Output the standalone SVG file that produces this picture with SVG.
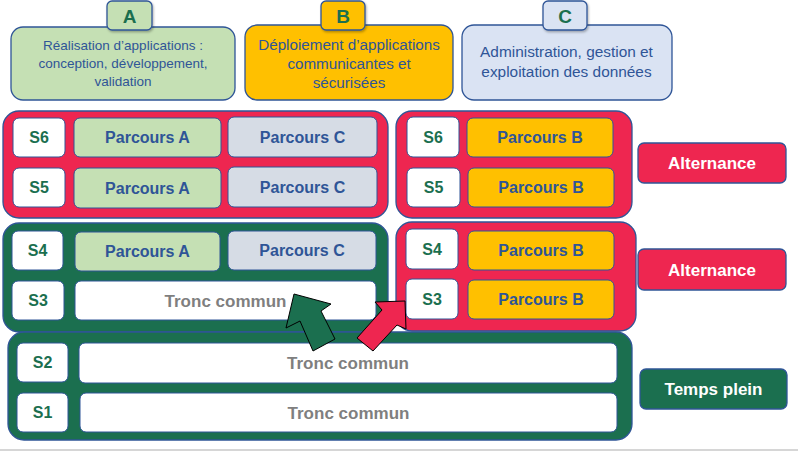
<svg xmlns="http://www.w3.org/2000/svg" width="798" height="451" viewBox="0 0 798 451">
<defs>
<style>
.t{font-family:"Liberation Sans",Arial,sans-serif;text-anchor:middle}
.big{stroke:#2F5597;stroke-width:1.3}
.tab{stroke:#2F5597;stroke-width:1.3}
.tabt{font-weight:bold;font-size:19px;fill:#1B6F4F}
.desc{fill:#2F5597}
.red{fill:#EE2650;stroke:#2F5597;stroke-width:1.3}
.grn{fill:#1B6F4F;stroke:#2F5597;stroke-width:1.3}
.box{stroke:#2F5597;stroke-width:1}
.w{fill:#FFFFFF}
.pa{fill:#C5E0B4}
.pb{fill:#FFC000}
.pc{fill:#D6DCE5}
.s{font-weight:bold;font-size:16px;fill:#1B6F4F}
.p{font-weight:bold;font-size:16px;fill:#2F5597}
.tc{font-weight:bold;font-size:17px;fill:#7F7F7F}
.lab{font-weight:bold;font-size:17px;fill:#FFFFFF}
</style>
<filter id="sh" x="-20%" y="-20%" width="140%" height="150%">
<feDropShadow dx="1" dy="1.5" stdDeviation="1" flood-color="#000" flood-opacity="0.3"/>
</filter>
</defs>
<rect width="798" height="451" fill="#FFFFFF"/>
<line x1="0" y1="450" x2="798" y2="450" stroke="#C8C8C8" stroke-width="1.5"/>

<g id="domain-A">
<rect class="big" x="11" y="27" width="224" height="73" rx="12" fill="#C5E0B4"/>
<rect class="tab" x="107" y="1" width="45" height="29" rx="5" fill="#C5E0B4" filter="url(#sh)"/>
<text class="t tabt" x="129.5" y="22.5">A</text>
<text class="t desc" font-size="13.5" x="123" y="49.5">Réalisation d’applications :</text>
<text class="t desc" font-size="13.5" x="123" y="68">conception, développement,</text>
<text class="t desc" font-size="13.5" x="123" y="86">validation</text>
</g>

<g id="domain-B">
<rect class="big" x="245" y="25" width="208" height="75" rx="12" fill="#FFC000"/>
<rect class="tab" x="321" y="1" width="44" height="29" rx="5" fill="#FFC000" filter="url(#sh)"/>
<text class="t tabt" x="343" y="22.5">B</text>
<text class="t desc" font-size="15.2" x="349" y="50">Déploiement d’applications</text>
<text class="t desc" font-size="15.2" x="349" y="69">communicantes et</text>
<text class="t desc" font-size="15.2" x="349" y="88">sécurisées</text>
</g>

<g id="domain-C">
<rect class="big" x="462" y="25" width="210" height="75" rx="12" fill="#DAE3F3"/>
<rect class="tab" x="543" y="1" width="44" height="29" rx="5" fill="#DAE3F3" filter="url(#sh)"/>
<text class="t tabt" x="565" y="22.5">C</text>
<text class="t desc" font-size="15.4" x="566.5" y="57">Administration, gestion et</text>
<text class="t desc" font-size="15.4" x="566.5" y="77">exploitation des données</text>
</g>

<g id="panel-S5S6-AC">
<rect class="red" x="3" y="111" width="385" height="107" rx="16"/>
<rect class="box w" x="13" y="118" width="52" height="39" rx="6"/>
<text class="t s" x="39" y="143">S6</text>
<rect class="box pa" x="74" y="118" width="147" height="39" rx="6"/>
<text class="t p" x="147.5" y="143">Parcours A</text>
<rect class="box pc" x="228" y="117" width="149" height="40" rx="6"/>
<text class="t p" x="302.5" y="143">Parcours C</text>
<rect class="box w" x="13" y="168" width="52" height="39" rx="6"/>
<text class="t s" x="39" y="193">S5</text>
<rect class="box pa" x="74" y="168" width="147" height="40" rx="6"/>
<text class="t p" x="147.5" y="193.5">Parcours A</text>
<rect class="box pc" x="228" y="167" width="149" height="40" rx="6"/>
<text class="t p" x="302.5" y="193">Parcours C</text>
</g>

<g id="panel-S5S6-B">
<rect class="red" x="396" y="111" width="236" height="107" rx="16"/>
<rect class="box w" x="407" y="117" width="52" height="40" rx="6"/>
<text class="t s" x="433" y="143">S6</text>
<rect class="box pb" x="467" y="118" width="146" height="39" rx="6"/>
<text class="t p" x="540" y="143">Parcours B</text>
<rect class="box w" x="407" y="168" width="53" height="39" rx="6"/>
<text class="t s" x="433.5" y="193">S5</text>
<rect class="box pb" x="468" y="168" width="146" height="39" rx="6"/>
<text class="t p" x="541" y="193">Parcours B</text>
</g>

<g id="panel-S3S4-AC">
<rect class="grn" x="3" y="223" width="385" height="109" rx="16"/>
<rect class="box w" x="12" y="231" width="51" height="39" rx="6"/>
<text class="t s" x="37.5" y="256">S4</text>
<rect class="box pa" x="75" y="232" width="145" height="39" rx="6"/>
<text class="t p" x="147.5" y="257">Parcours A</text>
<rect class="box pc" x="228" y="231" width="148" height="39" rx="6"/>
<text class="t p" x="302" y="256">Parcours C</text>
<rect class="box w" x="12" y="281" width="52" height="39" rx="6"/>
<text class="t s" x="38" y="306">S3</text>
<rect class="box w" x="75" y="281" width="301" height="39" rx="6"/>
<text class="t tc" x="225.5" y="306.5">Tronc commun</text>
</g>

<g id="panel-S3S4-B">
<rect class="red" x="396" y="222" width="240" height="109" rx="16"/>
<rect class="box w" x="406" y="229" width="52" height="40" rx="6"/>
<text class="t s" x="432" y="255">S4</text>
<rect class="box pb" x="468" y="231" width="146" height="39" rx="6"/>
<text class="t p" x="541" y="256">Parcours B</text>
<rect class="box w" x="406" y="279" width="52" height="40" rx="6"/>
<text class="t s" x="432" y="305">S3</text>
<rect class="box pb" x="468" y="280" width="146" height="39" rx="6"/>
<text class="t p" x="541" y="305">Parcours B</text>
</g>

<g id="panel-S1S2">
<rect class="grn" x="8" y="332" width="624" height="108" rx="16"/>
<rect class="box w" x="17" y="343" width="51" height="39" rx="6"/>
<text class="t s" x="42.5" y="368">S2</text>
<rect class="box w" x="79" y="343" width="538" height="40" rx="6"/>
<text class="t tc" x="348" y="369">Tronc commun</text>
<rect class="box w" x="17" y="393" width="51" height="39" rx="6"/>
<text class="t s" x="42.5" y="418">S1</text>
<rect class="box w" x="80" y="393" width="537" height="39" rx="6"/>
<text class="t tc" x="348.5" y="418.5">Tronc commun</text>
</g>

<g id="label-alternance-1">
<rect class="red" x="638" y="143" width="148" height="40" rx="6"/>
<text class="t lab" x="712" y="169">Alternance</text>
</g>
<g id="label-alternance-2">
<rect class="red" x="638" y="249" width="148" height="41" rx="6"/>
<text class="t lab" x="712" y="275.5">Alternance</text>
</g>
<g id="label-temps-plein">
<rect class="grn" x="640" y="369" width="147" height="40" rx="6"/>
<text class="t lab" x="713.5" y="395" font-size="16.5">Temps plein</text>
</g>

<g id="connectors" stroke="#000000" stroke-width="1" stroke-linejoin="miter">
<polygon points="294,294 331,304 321,311 335,339 313,351 300,321 286,328" fill="#1B6F4F"/>
<polygon points="405,301 406,329 397,325 373,351 357,338 382,310 375,302" fill="#EE2650"/>
</g>
</svg>
